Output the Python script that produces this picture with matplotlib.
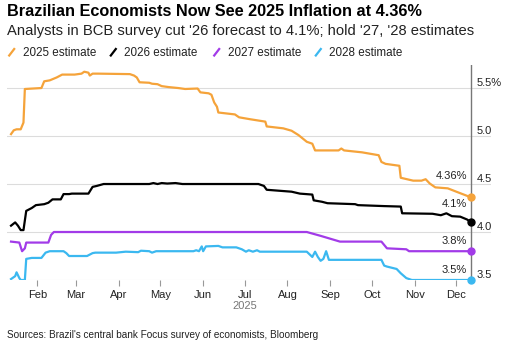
import matplotlib
matplotlib.use("Agg")
import matplotlib.pyplot as plt
import matplotlib.dates as mdates
from matplotlib.lines import Line2D
import pandas as pd

plt.rcParams['font.family'] = ['Liberation Sans', 'DejaVu Sans']

# Focus survey median IPCA forecasts (%)
dates_2025 = ["2025-01-13", "2025-01-15", "2025-01-17", "2025-01-20", "2025-01-22", "2025-01-23",
              "2025-02-04", "2025-02-06", "2025-02-10", "2025-02-15", "2025-02-19", "2025-02-28",
              "2025-03-05", "2025-03-07", "2025-03-10", "2025-03-11", "2025-03-13", "2025-03-17",
              "2025-04-09", "2025-04-12", "2025-04-14", "2025-04-16", "2025-04-23", "2025-04-25",
              "2025-04-29", "2025-05-02", "2025-05-07", "2025-05-14", "2025-05-19", "2025-05-28",
              "2025-05-30", "2025-06-05", "2025-06-07", "2025-06-09", "2025-06-11", "2025-06-12",
              "2025-06-24", "2025-06-27", "2025-07-05", "2025-07-16", "2025-07-17", "2025-07-29",
              "2025-08-04", "2025-08-09", "2025-08-15", "2025-08-19", "2025-08-21", "2025-09-07",
              "2025-09-09", "2025-09-11", "2025-09-24", "2025-10-06", "2025-10-08", "2025-10-11",
              "2025-10-21", "2025-10-22", "2025-10-31", "2025-11-06", "2025-11-09", "2025-11-12",
              "2025-11-16", "2025-11-25", "2025-12-03", "2025-12-12"]
est_2025 = [5.02, 5.06, 5.07, 5.07, 5.14, 5.49,
            5.50, 5.57, 5.58, 5.61, 5.64, 5.64,
            5.65, 5.67, 5.66, 5.63, 5.65, 5.65,
            5.645, 5.63, 5.61, 5.56, 5.555, 5.545,
            5.54, 5.52, 5.51, 5.50, 5.49, 5.495,
            5.455, 5.445, 5.43, 5.35, 5.305, 5.245,
            5.225, 5.195, 5.175, 5.15, 5.10, 5.08,
            5.055, 5.01, 4.94, 4.92, 4.85, 4.85,
            4.87, 4.85, 4.83, 4.80, 4.73, 4.71,
            4.69, 4.565, 4.535, 4.535, 4.55, 4.505,
            4.465, 4.455, 4.41, 4.36]

dates_2026 = ["2025-01-13", "2025-01-16", "2025-01-18", "2025-01-20", "2025-01-22", "2025-01-24",
              "2025-01-28", "2025-01-31", "2025-02-06", "2025-02-09", "2025-02-12", "2025-02-18",
              "2025-02-20", "2025-02-24", "2025-02-26", "2025-03-10", "2025-03-13", "2025-03-16",
              "2025-03-21", "2025-04-23", "2025-04-26", "2025-04-29", "2025-05-02", "2025-05-06",
              "2025-05-12", "2025-05-17", "2025-07-11", "2025-07-15", "2025-07-17", "2025-07-26",
              "2025-08-04", "2025-08-10", "2025-08-19", "2025-08-20", "2025-08-26", "2025-08-30",
              "2025-09-19", "2025-09-21", "2025-10-10", "2025-10-22", "2025-10-23", "2025-11-14",
              "2025-11-20", "2025-11-24", "2025-11-28", "2025-12-04", "2025-12-09", "2025-12-12"]
est_2026 = [4.066, 4.10, 4.066, 4.02, 4.02, 4.22,
            4.25, 4.28, 4.29, 4.305, 4.34, 4.34,
            4.395, 4.395, 4.40, 4.40, 4.47, 4.48,
            4.50, 4.50, 4.51, 4.50, 4.51, 4.505,
            4.51, 4.50, 4.50, 4.48, 4.44, 4.43,
            4.42, 4.40, 4.39, 4.33, 4.315, 4.30,
            4.29, 4.28, 4.27, 4.265, 4.195, 4.19,
            4.175, 4.195, 4.165, 4.16, 4.13, 4.10]

dates_2027 = ["2025-01-13", "2025-01-19", "2025-01-21", "2025-01-23", "2025-01-24", "2025-02-09",
              "2025-02-11", "2025-02-13", "2025-08-15", "2025-08-20", "2025-08-25", "2025-09-01",
              "2025-09-08", "2025-10-08", "2025-10-12", "2025-10-26", "2025-10-28", "2025-12-12"]
est_2027 = [3.90, 3.89, 3.80, 3.83, 3.89, 3.89,
            3.97, 4.00, 4.00, 3.98, 3.96, 3.93,
            3.90, 3.90, 3.83, 3.82, 3.80, 3.80]

dates_2028 = ["2025-01-13", "2025-01-16", "2025-01-17", "2025-01-19", "2025-01-20", "2025-01-23",
              "2025-01-24", "2025-01-28", "2025-02-04", "2025-02-07", "2025-02-10", "2025-02-20",
              "2025-02-22", "2025-02-24", "2025-03-09", "2025-03-13", "2025-03-15", "2025-03-30",
              "2025-04-06", "2025-04-15", "2025-04-17", "2025-04-23", "2025-04-25", "2025-04-28",
              "2025-05-25", "2025-05-27", "2025-05-29", "2025-05-31", "2025-06-01", "2025-06-03",
              "2025-06-12", "2025-06-15", "2025-06-25", "2025-06-29", "2025-07-02", "2025-07-04",
              "2025-07-07", "2025-07-10", "2025-07-12", "2025-08-15", "2025-08-19", "2025-08-21",
              "2025-08-23", "2025-08-25", "2025-08-27", "2025-08-29", "2025-08-31", "2025-10-08",
              "2025-10-10", "2025-10-12", "2025-10-19", "2025-10-22", "2025-10-26", "2025-10-30",
              "2025-12-12"]
est_2028 = [3.51, 3.54, 3.58, 3.52, 3.50, 3.50,
            3.72, 3.73, 3.73, 3.785, 3.80, 3.80,
            3.78, 3.75, 3.75, 3.78, 3.785, 3.785,
            3.795, 3.79, 3.805, 3.80, 3.785, 3.80,
            3.80, 3.81, 3.80, 3.85, 3.80, 3.85,
            3.855, 3.84, 3.84, 3.82, 3.795, 3.81,
            3.795, 3.81, 3.795, 3.795, 3.74, 3.795,
            3.74, 3.70, 3.72, 3.80, 3.71, 3.71,
            3.65, 3.64, 3.615, 3.57, 3.52, 3.50,
            3.50]

series_labels = ["2025 estimate", "2026 estimate", "2027 estimate", "2028 estimate"]
end_labels = ["4.36%", "4.1%", "3.8%", "3.5%"]
yticks = [3.5, 4.0, 4.5, 5.0, 5.5]
ytick_labels = ["3.5", "4.0", "4.5", "5.0", "5.5%"]
month_ticks = ["2025-02-01", "2025-03-01", "2025-04-01", "2025-05-01", "2025-06-01", "2025-07-01",
               "2025-08-01", "2025-09-01", "2025-10-01", "2025-11-01", "2025-12-01"]

colors = ["#f5a33a", "#000000", "#a23be8", "#3bb8f0"]
label_offsets = [21, 18, 10, 10]  # px above the end point

W, H = 505, 352
fig = plt.figure(figsize=(W / 100, H / 100), dpi=100)
ax = fig.add_axes([7 / W, (H - 280) / H, 484 / W, 215 / H])

all_series = [(dates_2025, est_2025), (dates_2026, est_2026),
              (dates_2027, est_2027), (dates_2028, est_2028)]
for (d, v), c in zip(all_series, colors):
    x = pd.to_datetime(d)
    ax.plot(x, v, color=c, lw=1.6, solid_joinstyle='round', zorder=3)
    ax.plot(x[-1:], v[-1:], 'o', color=c, ms=5, zorder=5, clip_on=False)

last_day = pd.Timestamp("2025-12-12")
ax.set_xlim(pd.Timestamp("2025-01-10 02:00"), pd.Timestamp("2025-12-26 07:00"))
ax.set_ylim(3.5, 5.74)
ax.axvline(last_day, color="#777777", lw=1.0, zorder=4)

# end-of-line labels
for (d, v), lab, off in zip(all_series, end_labels, label_offsets):
    ax.annotate(lab, xy=(pd.Timestamp(d[-1]), v[-1]), xytext=(-3, off * 0.72),
                textcoords='offset points', ha='right', va='center',
                fontsize=8, color="#222222")

# y grid + right side labels sitting on top of the gridlines
ax.set_yticks(yticks)
ax.yaxis.grid(True, color="#dcdcdc", lw=0.8)
ax.tick_params(axis='y', length=0, labelleft=False)
for yv, yl in zip(yticks, ytick_labels):
    ax.text((477 - 7) / 484, yv, yl, transform=ax.get_yaxis_transform(),
            ha='left', va='bottom', fontsize=8, color="#222222")

ax.set_xticks(pd.to_datetime(month_ticks))
ax.xaxis.set_major_formatter(mdates.DateFormatter("%b"))
ax.tick_params(axis='x', length=4, width=0.8, color="#999999", pad=3,
               labelsize=8, labelcolor="#222222")
for s in ax.spines.values():
    s.set_visible(False)
ax.set_axisbelow(True)

# year label under Jul
ax.annotate("2025", xy=(pd.Timestamp("2025-07-01"), 0), xycoords=('data', 'axes fraction'),
            xytext=(0, -19), textcoords='offset points', ha='center', va='center',
            fontsize=8, color="#777777")

# title block
fig.text(7 / W, 1 - 11 / H, "Brazilian Economists Now See 2025 Inflation at 4.36%",
         fontsize=11.7, fontweight='bold', va='center', ha='left')
fig.text(7 / W, 1 - 31 / H, "Analysts in BCB survey cut '26 forecast to 4.1%; hold '27, '28 estimates",
         fontsize=10.6, va='center', ha='left', color="#222222")

legend_x = [11.7, 113.3, 216.7, 318.3]
for lx, lab, c in zip(legend_x, series_labels, colors):
    fig.add_artist(Line2D([(lx - 2.5) / W, (lx + 2.5) / W],
                          [1 - 55.5 / H, 1 - 49 / H], color=c, lw=1.6))
    fig.text((lx + 11) / W, 1 - 52.5 / H, lab, fontsize=8.4, va='center', ha='left',
             color="#222222")

fig.text(7 / W, 1 - 335 / H, "Sources: Brazil's central bank Focus survey of economists, Bloomberg",
         fontsize=7.2, va='center', ha='left', color="#222222")

fig.savefig("out.png", dpi=100)
